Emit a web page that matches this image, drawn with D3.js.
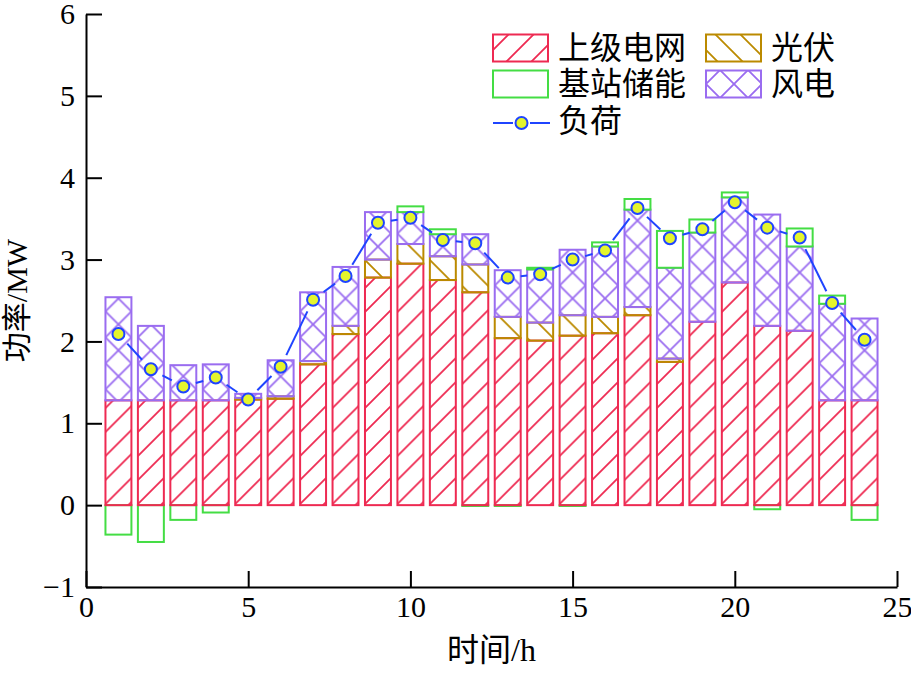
<!DOCTYPE html>
<html>
<head>
<meta charset="utf-8">
<script src="https://cdn.jsdelivr.net/npm/d3@7/dist/d3.min.js"></script>
<style>
  body { margin: 0; background: #fff; }
  text { font-family: "Liberation Serif", "Noto Sans CJK SC", serif; fill: #000; }
</style>
</head>
<body>
<div id="chart"></div>
<script>
// hourly dispatch, MW
const hours        = [1, 2, 3, 4, 5, 6, 7, 8, 9, 10, 11, 12, 13, 14, 15, 16, 17, 18, 19, 20, 21, 22, 23, 24];
const gridPower    = [1.28, 1.28, 1.28, 1.28, 1.29, 1.30, 1.72, 2.09, 2.78, 2.95, 2.75, 2.60, 2.04, 2.01, 2.07, 2.10, 2.32, 1.75, 2.24, 2.72, 2.19, 2.13, 1.28, 1.28];
const pvPower      = [0, 0, 0, 0, 0.02, 0.03, 0.04, 0.10, 0.22, 0.24, 0.29, 0.34, 0.26, 0.22, 0.25, 0.20, 0.10, 0.04, 0, 0, 0, 0, 0, 0];
const windPower    = [1.26, 0.91, 0.43, 0.44, 0.05, 0.44, 0.84, 0.72, 0.58, 0.39, 0.27, 0.37, 0.57, 0.65, 0.80, 0.86, 1.19, 1.11, 1.09, 1.04, 1.36, 1.03, 1.18, 1.00];
const storagePower = [-0.36, -0.45, -0.18, -0.09, 0, 0, 0, 0, 0, 0.07, 0.06, -0.01, -0.01, 0.02, -0.01, 0.05, 0.13, 0.45, 0.16, 0.06, -0.05, 0.22, 0.10, -0.18];
const loadPower    = [2.09, 1.66, 1.45, 1.56, 1.29, 1.69, 2.51, 2.80, 3.45, 3.51, 3.24, 3.20, 2.78, 2.82, 3.00, 3.11, 3.63, 3.26, 3.37, 3.70, 3.39, 3.27, 2.47, 2.02];

const xTicks = [0, 5, 10, 15, 20, 25];
const yTicks = [-1, 0, 1, 2, 3, 4, 5, 6];

const colors = {
    grid: '#ee2a52',
    pv: '#bb8a00',
    storage: '#44dd44',
    wind: '#9a6cf0',
    line: '#1f44ff',
    dot: '#e4f52c'
};

const width = 911, height = 674;
const svg = d3.select('#chart').append('svg')
    .attr('width', width)
    .attr('height', height);

const xScale = d3.scaleLinear().domain([0, 25]).range([86, 897]);
const yScale = d3.scaleLinear().domain([-1, 6]).range([587, 14]);
const barW = xScale(0.8) - xScale(0);

const defs = svg.append('defs');

// hatch tiles, one per bar so the pattern lines up with the bar edge
function hatch(id, color, kind, s, x0) {
    const p = defs.append('pattern')
        .attr('id', id)
        .attr('patternUnits', 'userSpaceOnUse')
        .attr('x', x0).attr('y', 0)
        .attr('width', s).attr('height', s);
    let d = '';
    if (kind === 'slash' || kind === 'cross')
        d += `M0,${s}L${s},0M${-s / 4},${s / 4}L${s / 4},${-s / 4}M${3 * s / 4},${5 * s / 4}L${5 * s / 4},${3 * s / 4}`;
    if (kind === 'back' || kind === 'cross')
        d += `M0,0L${s},${s}M${-s / 4},${3 * s / 4}L${s / 4},${5 * s / 4}M${3 * s / 4},${-s / 4}L${5 * s / 4},${s / 4}`;
    p.append('path')
        .attr('d', d)
        .attr('stroke', color)
        .attr('stroke-width', 1.8)
        .attr('fill', 'none');
    return `url(#${id})`;
}

const bars = svg.append('g').attr('class', 'bars');

hours.forEach((h, i) => {
    const left = xScale(h) - barW / 2;
    const segs = [];
    const st = storagePower[i];
    if (st < 0) segs.push({ y0: st, y1: 0, color: colors.storage, fill: '#fff' });
    let base = 0;
    segs.push({ y0: base, y1: base + gridPower[i], color: colors.grid,
        fill: hatch('g' + i, colors.grid, 'slash', 24, left) });
    base += gridPower[i];
    if (pvPower[i] > 0) {
        segs.push({ y0: base, y1: base + pvPower[i], color: colors.pv,
            fill: hatch('p' + i, colors.pv, 'back', 26, left) });
        base += pvPower[i];
    }
    if (windPower[i] > 0) {
        segs.push({ y0: base, y1: base + windPower[i], color: colors.wind,
            fill: hatch('w' + i, colors.wind, 'cross', barW, left) });
        base += windPower[i];
    }
    if (st > 0) segs.push({ y0: base, y1: base + st, color: colors.storage, fill: '#fff' });

    bars.selectAll(null).data(segs).enter()
        .append('rect')
        .attr('x', left)
        .attr('y', d => yScale(d.y1))
        .attr('width', barW)
        .attr('height', d => yScale(d.y0) - yScale(d.y1))
        .attr('fill', d => d.fill)
        .attr('stroke', d => d.color)
        .attr('stroke-width', 2);
});

// load line, drawn with a gap around each symbol
const pts = hours.map((h, i) => [xScale(h), yScale(loadPower[i])]);
const gap = 13;
const lineG = svg.append('g').attr('class', 'load');
d3.pairs(pts).forEach(([a, b]) => {
    const dx = b[0] - a[0], dy = b[1] - a[1];
    const len = Math.hypot(dx, dy);
    if (len <= gap * 2) return;
    const ux = dx / len, uy = dy / len;
    lineG.append('line')
        .attr('x1', a[0] + ux * gap).attr('y1', a[1] + uy * gap)
        .attr('x2', b[0] - ux * gap).attr('y2', b[1] - uy * gap)
        .attr('stroke', colors.line)
        .attr('stroke-width', 2);
});
lineG.selectAll('circle').data(pts).enter()
    .append('circle')
    .attr('cx', d => d[0])
    .attr('cy', d => d[1])
    .attr('r', 6)
    .attr('fill', colors.dot)
    .attr('stroke', colors.line)
    .attr('stroke-width', 2);

// axes
const xAxis = d3.axisBottom(xScale)
    .tickValues(xTicks)
    .tickFormat(d3.format('d'))
    .tickSizeInner(-16)
    .tickSizeOuter(0)
    .tickPadding(9);
const yAxis = d3.axisLeft(yScale)
    .tickValues(yTicks)
    .tickFormat(d3.format('d'))
    .tickSizeInner(-16)
    .tickSizeOuter(0)
    .tickPadding(11);

const xAxisG = svg.append('g')
    .attr('transform', `translate(0,${yScale(-1)})`)
    .call(xAxis);
const yAxisG = svg.append('g')
    .attr('transform', `translate(${xScale(0)},0)`)
    .call(yAxis);

[xAxisG, yAxisG].forEach(g => {
    g.selectAll('.domain').attr('stroke', '#000').attr('stroke-width', 2);
    g.selectAll('.tick line').attr('stroke', '#000').attr('stroke-width', 2);
    g.selectAll('.tick text')
        .style('font-family', '"Liberation Serif", serif')
        .style('font-size', '30px')
        .attr('fill', '#000');
});

svg.append('text')
    .attr('transform', `translate(16,${(yScale(6) + yScale(-1)) / 2}) rotate(-90)`)
    .attr('text-anchor', 'middle')
    .attr('dominant-baseline', 'central')
    .style('font-size', '30px')
    .text('功率/MW');

svg.append('text')
    .attr('x', (xScale(0) + xScale(25)) / 2)
    .attr('y', 661)
    .attr('text-anchor', 'middle')
    .style('font-size', '32px')
    .text('时间/h');

// legend
const legendItems = [
    { name: '上级电网', color: colors.grid, kind: 'slash', col: 0, row: 0 },
    { name: '光伏', color: colors.pv, kind: 'back', col: 1, row: 0 },
    { name: '基站储能', color: colors.storage, kind: 'none', col: 0, row: 1 },
    { name: '风电', color: colors.wind, kind: 'cross', col: 1, row: 1 }
];
const colX = [493, 706];
const rowY = [48, 84, 123];
const swW = 55, swH = 27;
const legend = svg.append('g').attr('class', 'legend');

legendItems.forEach((d, i) => {
    const x = colX[d.col], yc = rowY[d.row];
    const fill = d.kind === 'none' ? '#fff'
        : hatch('lg' + i, d.color, d.kind, d.kind === 'cross' ? 28 : 25, x);
    legend.append('rect')
        .attr('x', x).attr('y', yc - swH / 2)
        .attr('width', swW).attr('height', swH)
        .attr('fill', fill)
        .attr('stroke', d.color)
        .attr('stroke-width', 2);
    legend.append('text')
        .attr('x', x + swW + 10)
        .attr('y', yc)
        .attr('dominant-baseline', 'central')
        .style('font-size', '32px')
        .text(d.name);
});

const ly = rowY[2];
legend.append('line')
    .attr('x1', colX[0]).attr('x2', colX[0] + 20)
    .attr('y1', ly).attr('y2', ly)
    .attr('stroke', colors.line).attr('stroke-width', 2);
legend.append('line')
    .attr('x1', colX[0] + 37).attr('x2', colX[0] + 57)
    .attr('y1', ly).attr('y2', ly)
    .attr('stroke', colors.line).attr('stroke-width', 2);
legend.append('circle')
    .attr('cx', colX[0] + 28.5).attr('cy', ly)
    .attr('r', 6)
    .attr('fill', colors.dot)
    .attr('stroke', colors.line)
    .attr('stroke-width', 2);
legend.append('text')
    .attr('x', colX[0] + swW + 10)
    .attr('y', ly - 2)
    .attr('dominant-baseline', 'central')
    .style('font-size', '32px')
    .text('负荷');
</script>
</body>
</html>
